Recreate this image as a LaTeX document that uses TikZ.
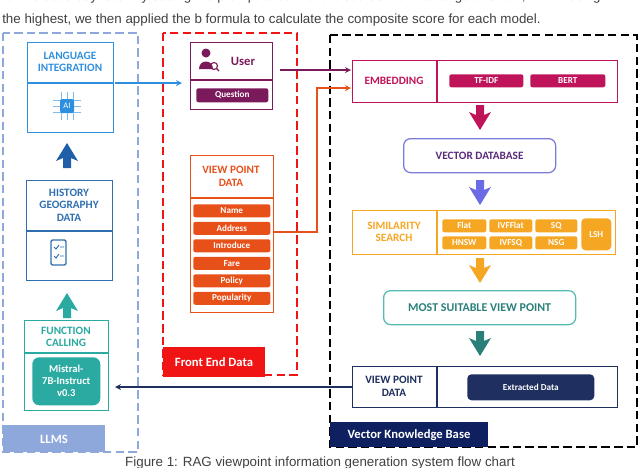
\documentclass[tikz,border=0pt]{standalone}
\usepackage{fontspec}
\setmainfont{Carlito}
\newfontfamily\capfont{Liberation Sans}
\usetikzlibrary{positioning}
\definecolor{llmblue}{HTML}{8FA8DC}
\definecolor{libue}{HTML}{2F8FDF}
\definecolor{hgblue}{HTML}{2F6FB0}
\definecolor{darkblue}{HTML}{1F5FA8}
\definecolor{teal1}{HTML}{2AAAA0}
\definecolor{tealdk}{HTML}{2A7F7A}
\definecolor{fered}{HTML}{F01414}
\definecolor{userpur}{HTML}{7B1A5A}
\definecolor{vporange}{HTML}{E8501A}
\definecolor{embmag}{HTML}{C0145A}
\definecolor{vdbline}{HTML}{7B7BD8}
\definecolor{vdbtext}{HTML}{5A2A7A}
\definecolor{vdbarrow}{HTML}{6B6BE8}
\definecolor{simorange}{HTML}{F5A623}
\definecolor{navy}{HTML}{1F2F5F}
\definecolor{vkbnavy}{HTML}{0F2060}
\def\u{0.025cm}
\begin{document}
\begin{tikzpicture}[x=0.025cm,y=-0.025cm,
  box/.style={draw,line width=0.9pt,anchor=north west,inner sep=0pt},
  title/.style={font=\bfseries\fontsize{8}{9}\selectfont,align=center},
  bar/.style={anchor=north west,inner sep=0pt,rounded corners=1.5pt,text=white},
  bartext/.style={text=white,font=\bfseries\fontsize{6.5}{7}\selectfont},
  group/.style={line width=0.9pt,dash pattern=on 6pt off 3pt},
  glabel/.style={text=white,font=\bfseries\fontsize{9}{10}\selectfont},
  flow/.style={->,line width=0.9pt,>=stealth}]
\useasboundingbox (0,0) rectangle (640,468);
\begin{scope}
\clip (0,0) rectangle (640,468);
\node[anchor=west,text=black!75,font=\capfont\fontsize{9.5}{10}\selectfont,inner sep=0pt] (t0) at (2,-3)
  {for the accuracy rate. By setting the prompt to control the scores within a range of 0 to 1, with 1 being};
\node[anchor=west,text=black!75,font=\capfont\fontsize{9.5}{10}\selectfont,inner sep=0pt] (t1) at (2,20)
  {the highest, we then applied the b formula to calculate the composite score for each model.};
\node[text=black!75,font=\capfont\fontsize{9.5}{10}\selectfont,inner sep=0pt] (cap) at (320,463)
  {Figure 1: RAG viewpoint information generation system flow chart};
\end{scope}
\newcommand{\fatarrow}[4]{% x, y(top), colour, up/down sign
  \fill[#3] (#1-4,#2) -- (#1+4,#2) -- (#1+4,#2+#4*10) -- (#1+11,#2+#4*7) -- (#1,#2+#4*25)
    -- (#1-11,#2+#4*7) -- (#1-4,#2+#4*10) -- cycle;}
% groups
\draw[group,llmblue] (3,33) rectangle (138,452);
\fill[llmblue] (3,425) rectangle (105,452);
\node[glabel] (llmsl) at (54,439) {LLMS};
\draw[group,fered] (163,33) rectangle (297,375);
\fill[fered] (163,347) rectangle (265,377);
\node[glabel] (fel) at (214,362) {Front End Data};
\draw[group,black] (330,35) rectangle (637,447);
\fill[vkbnavy] (330,422) rectangle (488,447);
\node[glabel] (vkbl) at (409,435) {Vector Knowledge Base};
% LLMS column
\node[box,draw=libue,minimum width=86*\u,minimum height=90*\u] (li) at (27,42) {};
\draw[libue,line width=0.9pt] (27,83) -- (113,83);
\node[title,text=libue] at (70,62) {LANGUAGE\\INTEGRATION};
\foreach \k in {-6,0,6} {\draw[libue!60,line width=0.4pt] (67+\k,92)--(67+\k,120) (53,106+\k)--(81,106+\k);}
\node[fill=libue,rounded corners=1.5pt,minimum size=14*\u,inner sep=0pt,text=white,font=\fontsize{6}{6}\selectfont] (ai) at (67,106) {AI};
\fatarrow{67}{168}{darkblue}{-1}
\node[box,draw=hgblue,minimum width=86*\u,minimum height=100*\u] (hg) at (26,180) {};
\draw[hgblue,line width=0.9pt] (26,231) -- (112,231);
\node[title,text=hgblue] at (69,205) {HISTORY\\GEOGRAPHY\\DATA};
\draw[hgblue,line width=1pt,rounded corners=1pt] (51,240) rectangle (66,265);
\draw[hgblue,line width=0.7pt] (54,247)--(56,249)--(59,245) (60,247)--(64,247) (54,256)--(56,258)--(59,254) (60,256)--(64,256);
\fatarrow{67}{318}{teal1}{-1}
\node[box,draw=teal1,minimum width=84*\u,minimum height=90*\u] (fc) at (24,320) {};
\draw[teal1,line width=0.9pt] (24,353) -- (108,353);
\node[title,text=teal1] at (66,337) {FUNCTION\\CALLING};
\node[anchor=north west,fill=teal1,rounded corners=5pt,minimum width=68*\u,minimum height=48*\u,inner sep=0pt] (mis) at (32,357) {};
\node[text=white,align=center,font=\bfseries\fontsize{7.5}{8.5}\selectfont] at (mis.center) {Mistral-\\7B-Instruct\\v0.3};
% Front end column
\node[box,draw=userpur,minimum width=82*\u,minimum height=67*\u] (user) at (190,42) {};
\draw[userpur,line width=0.9pt] (190,80) -- (272,80);
\fill[userpur] (206,53) circle (4.5) (199,69) .. controls (199,59) and (213,59) .. (213,69) -- cycle;
\draw[userpur,line width=0.8pt] (214,66) circle (3.5) (216.5,68.5) -- (219,71);
\node[title,text=userpur,font=\bfseries\fontsize{9}{10}\selectfont] at (243,61) {User};
\node[bar,fill=userpur,minimum width=72*\u,minimum height=14*\u] (q) at (196,88) {};
\node[bartext] at (q.center) {Question};
\node[box,draw=vporange,minimum width=83*\u,minimum height=157*\u] (vp) at (190,155) {};
\draw[vporange,line width=0.9pt] (190,198) -- (273,198);
\node[title,text=vporange] at (231,176) {VIEW POINT\\DATA};
\foreach \t [count=\i] in {Name,Address,Introduce,Fare,Policy,Popularity} {
  \node[bar,fill=vporange,minimum width=77*\u,minimum height=13*\u] (vp\i) at (193,204+17.5*\i-17.5) {};
  \node[bartext] at (vp\i.center) {\t};
}
% Vector knowledge base column
\node[box,draw=embmag,minimum width=265*\u,minimum height=42*\u] (emb) at (352,60) {};
\draw[embmag,line width=0.9pt] (437,60) -- (437,102);
\node[title,text=embmag] at (394,81) {EMBEDDING};
\node[bar,fill=embmag,minimum width=74*\u,minimum height=13*\u] (tf) at (449,74) {};
\node[bartext] at (tf.center) {TF-IDF};
\node[bar,fill=embmag,minimum width=75*\u,minimum height=13*\u] (bert) at (530,74) {};
\node[bartext] at (bert.center) {BERT};
\fatarrow{480}{105}{embmag}{1}
\node[box,draw=vdbline,rounded corners=5pt,minimum width=152*\u,minimum height=34*\u] (vdb) at (403,138) {};
\node[title,text=vdbtext] at (vdb.center) {VECTOR DATABASE};
\fatarrow{480}{180}{vdbarrow}{1}
\node[box,draw=simorange,minimum width=263*\u,minimum height=44*\u] (sim) at (352,210) {};
\draw[simorange,line width=0.9pt] (437,210) -- (437,254);
\node[title,text=simorange] at (394,232) {SIMILARITY\\SEARCH};
\foreach \t/\x/\y/\w [count=\i] in {Flat/442/219/44,IVFFlat/489/219/43,SQ/535/219/42,HNSW/442/236/44,IVFSQ/489/236/43,NSG/535/236/42} {
  \node[bar,fill=simorange,minimum width=\w*\u,minimum height=13*\u] (s\i) at (\x,\y) {};
  \node[bartext] at (s\i.center) {\t};
}
\node[bar,fill=simorange,rounded corners=3pt,minimum width=30*\u,minimum height=32*\u] (lsh) at (581,218) {};
\node[bartext] at (lsh.center) {LSH};
\fatarrow{480}{258}{simorange}{1}
\node[box,draw=teal1!80,rounded corners=5pt,minimum width=192*\u,minimum height=34*\u] (most) at (383,290) {};
\node[title,text=tealdk,font=\bfseries\fontsize{8.5}{9}\selectfont] at (most.center) {MOST SUITABLE VIEW POINT};
\fatarrow{480}{331}{tealdk}{1}
\node[box,draw=navy,minimum width=265*\u,minimum height=41*\u] (vpd) at (352,366) {};
\draw[navy,line width=0.9pt] (437,366) -- (437,407);
\node[title,text=navy] at (394,386) {VIEW POINT\\DATA};
\node[bar,fill=navy,rounded corners=3pt,minimum width=127*\u,minimum height=26*\u] (ext) at (467,374) {};
\node[bartext] at (ext.center) {Extracted Data};
% connectors
\coordinate (liout) at (115,83);
\coordinate (uin) at (182,83);
\draw[flow,libue] (liout) -- (uin);
\coordinate (uout) at (280,70);
\coordinate (ein) at (351,70);
\draw[flow,userpur] (uout) -- (ein);
\coordinate (vpout) at (273,232);
\coordinate (ein2) at (351,88);
\draw[flow,vporange] (vpout) -- (317,232) -- (317,88) -- (ein2);
\coordinate (misin) at (115,387);
\draw[flow,navy] (vpd.west |- 0,387) -- (misin);
\end{tikzpicture}
\end{document}
